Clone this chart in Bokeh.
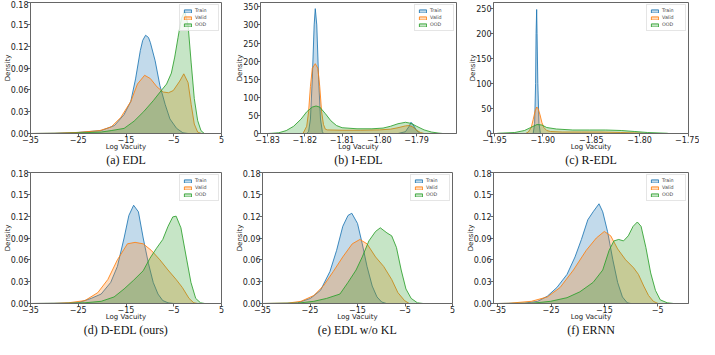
from bokeh.plotting import figure
from bokeh.layouts import column, row
from bokeh.models import Range1d, FixedTicker, CustomJSTickFormatter, Legend, LegendItem, LinearAxis
from bokeh.embed import file_html
from bokeh.resources import INLINE

SERIES = ["Train", "Valid", "OOD"]
COLORS = ["#1f77b4", "#ff7f0e", "#2ca02c"]

# ---------------- (a) EDL ----------------
a_train_x = [-35, -30, -25, -20.2, -17.4, -15.4, -14.0, -13.0, -12.0, -11.5, -10.9, -10.3, -9.9, -8.9, -7.9, -6.8, -5.8, -4.4, -3.1, -2.0]
a_train_y = [0, 0.0003, 0.0015, 0.004, 0.011, 0.026, 0.044, 0.075, 0.114, 0.128, 0.135, 0.132, 0.125, 0.100, 0.066, 0.040, 0.020, 0.007, 0.001, 0]
a_valid_x = [-35, -30, -25, -20.5, -18.1, -16.1, -14.0, -12.6, -11.1, -9.9, -8.5, -7.2, -6.1, -5.1, -3.75, -2.9, -2.0, -1.35, -0.7, 0.0, 0.8]
a_valid_y = [0, 0.0003, 0.0015, 0.004, 0.009, 0.022, 0.044, 0.068, 0.080, 0.0755, 0.064, 0.057, 0.056, 0.059, 0.072, 0.082, 0.070, 0.040, 0.013, 0.002, 0]
a_ood_x = [-35, -28, -24, -20.2, -18.1, -15.4, -13.3, -11.3, -9.3, -7.5, -6.5, -5.5, -4.8, -4.1, -3.4, -2.7, -2.0, -1.35, -0.7, 0.0, 0.7, 1.4]
a_ood_y = [0, 0.0003, 0.001, 0.002, 0.004, 0.007, 0.017, 0.030, 0.045, 0.060, 0.068, 0.083, 0.105, 0.132, 0.158, 0.168, 0.149, 0.097, 0.048, 0.018, 0.004, 0]

# ---------------- (b) I-EDL ----------------
b_train_x = [-1.8195, -1.819, -1.8185, -1.818, -1.8175, -1.8172, -1.8168, -1.8163, -1.8158, -1.8153, -1.815, -1.795, -1.793, -1.792, -1.7915, -1.791, -1.790, -1.789]
b_train_y = [0, 5, 40, 150, 300, 345, 300, 150, 40, 5, 0, 0, 5, 20, 31, 25, 8, 0]
b_valid_x = [-1.8205, -1.8195, -1.819, -1.8185, -1.818, -1.8172, -1.8165, -1.816, -1.8155, -1.815, -1.8145, -1.814, -1.810, -1.805, -1.800, -1.797, -1.795, -1.793, -1.792, -1.791, -1.790, -1.789, -1.788]
b_valid_y = [0, 20, 60, 130, 180, 193, 180, 130, 60, 25, 12, 10, 9, 9, 10, 12, 16, 21, 22, 18, 9, 3, 0]
b_ood_x = [-1.830, -1.829, -1.827, -1.825, -1.823, -1.821, -1.8195, -1.818, -1.817, -1.816, -1.8145, -1.813, -1.8115, -1.810, -1.806, -1.802, -1.799, -1.797, -1.795, -1.793, -1.7915, -1.790, -1.788, -1.786, -1.784, -1.783]
b_ood_y = [0, 0.5, 2, 8, 20, 40, 60, 73, 76, 73, 55, 35, 22, 16, 13, 13, 15, 20, 27, 31, 28, 20, 10, 4, 1, 0]

# ---------------- (c) R-EDL ----------------
c_train_x = [-1.910, -1.9085, -1.9075, -1.907, -1.9064, -1.906, -1.9052, -1.904, -1.9025]
c_train_y = [0, 20, 100, 200, 248, 200, 100, 20, 0]
c_valid_x = [-1.918, -1.915, -1.912, -1.910, -1.908, -1.9063, -1.905, -1.903, -1.901, -1.899, -1.896, -1.892, -1.880, -1.860, -1.840, -1.820, -1.800, -1.795]
c_valid_y = [0, 3, 12, 28, 45, 53, 50, 38, 22, 12, 6, 4, 3, 3, 3, 2, 1, 0]
c_ood_x = [-1.948, -1.946, -1.929, -1.919, -1.9125, -1.906, -1.901, -1.896, -1.886, -1.869, -1.852, -1.835, -1.819, -1.805, -1.792, -1.772, -1.770]
c_ood_y = [0, 0.5, 2, 6, 12, 18, 17, 12, 9, 7, 7, 7, 6, 4, 2, 0.5, 0]

# ---------------- (d) D-EDL (ours) ----------------
d_train_x = [-35, -30, -25, -22.3, -20.2, -18.2, -16.8, -15.4, -14.4, -13.4, -12.4, -11.4, -10.3, -9.3, -8.3, -7.3, -6.2, -5.0]
d_train_y = [0, 0.0003, 0.001, 0.007, 0.013, 0.029, 0.051, 0.090, 0.121, 0.135, 0.126, 0.090, 0.055, 0.029, 0.013, 0.004, 0.001, 0]
d_valid_x = [-35, -30, -27, -23.6, -20.9, -18.8, -16.8, -14.7, -13.1, -11.4, -9.7, -7.9, -6.2, -4.5, -3.2, -1.8, -0.8, 0.0]
d_valid_y = [0, 0.0002, 0.001, 0.004, 0.015, 0.033, 0.060, 0.082, 0.084, 0.082, 0.073, 0.060, 0.046, 0.033, 0.022, 0.007, 0.001, 0]
d_ood_x = [-35, -28, -23.6, -20.2, -17.5, -15.4, -13.4, -11.4, -10.0, -8.6, -7.3, -6.2, -5.2, -4.5, -3.5, -2.5, -1.4, -0.4, 0.6, 1.5]
d_ood_y = [0, 0.0002, 0.001, 0.003, 0.009, 0.020, 0.032, 0.045, 0.062, 0.076, 0.088, 0.106, 0.119, 0.120, 0.104, 0.068, 0.029, 0.007, 0.001, 0]

# ---------------- (e) EDL w/o KL ----------------
e_train_x = [-35, -30, -27.6, -24.9, -22.8, -20.8, -19.4, -18.1, -17.0, -16.2, -15.0, -14.0, -13.0, -11.9, -10.9, -9.9, -8.9]
e_train_y = [0, 0.0003, 0.001, 0.007, 0.018, 0.044, 0.073, 0.106, 0.121, 0.124, 0.110, 0.082, 0.051, 0.024, 0.009, 0.002, 0]
e_valid_x = [-35, -29.7, -26.9, -24.2, -22.2, -20.1, -18.1, -16.1, -14.5, -13.0, -11.2, -9.5, -7.8, -6.5, -5.1, -4.1]
e_valid_y = [0, 0.0005, 0.003, 0.011, 0.024, 0.044, 0.064, 0.082, 0.088, 0.082, 0.064, 0.051, 0.033, 0.015, 0.004, 0]
e_ood_x = [-35, -27.6, -24.2, -21.5, -18.7, -17.0, -15.3, -14.0, -12.6, -11.2, -10.2, -8.8, -7.8, -6.8, -5.8, -4.8, -3.7, -2.4, -1.2]
e_ood_y = [0, 0.0005, 0.003, 0.007, 0.013, 0.029, 0.046, 0.064, 0.086, 0.099, 0.104, 0.097, 0.093, 0.077, 0.046, 0.020, 0.007, 0.001, 0]

# ---------------- (f) ERNN ----------------
f_train_x = [-35, -30, -27.5, -25.7, -23.9, -22.0, -20.5, -19.3, -18.1, -17.1, -16.0, -15.3, -14.4, -13.4, -12.5, -11.6, -10.7, -10.0]
f_train_y = [0, 0.0005, 0.003, 0.010, 0.022, 0.040, 0.064, 0.088, 0.115, 0.126, 0.137, 0.126, 0.099, 0.060, 0.029, 0.009, 0.001, 0]
f_valid_x = [-35, -33, -28.7, -25.7, -23.3, -20.8, -18.4, -16.5, -15.0, -13.8, -12.5, -11.0, -9.5, -8.6, -7.6, -6.7, -5.8, -4.9]
f_valid_y = [0, 0.0003, 0.003, 0.009, 0.022, 0.046, 0.073, 0.090, 0.099, 0.093, 0.075, 0.060, 0.049, 0.040, 0.024, 0.011, 0.003, 0]
f_ood_x = [-35, -28.7, -25.1, -22.0, -19.6, -17.1, -15.3, -14.1, -13.2, -12.3, -11.4, -10.5, -9.6, -8.8, -8.1, -7.2, -6.3, -5.4, -4.5, -3.2, -2.0]
f_ood_y = [0, 0.0003, 0.003, 0.008, 0.016, 0.029, 0.046, 0.073, 0.086, 0.088, 0.086, 0.093, 0.106, 0.112, 0.106, 0.077, 0.042, 0.018, 0.005, 0.001, 0]

KDE_Y = [0, 0.03, 0.06, 0.09, 0.12, 0.15, 0.18]
PANELS = [
    dict(cap="(a) EDL", data=[(a_train_x, a_train_y), (a_valid_x, a_valid_y), (a_ood_x, a_ood_y)],
         xr=(-35, 5), xt=[-35, -25, -15, -5, 5], xd=0, yr=(0, 0.18), yt=KDE_Y, yd=2),
    dict(cap="(b) I-EDL", data=[(b_train_x, b_train_y), (b_valid_x, b_valid_y), (b_ood_x, b_ood_y)],
         xr=(-1.8319, -1.7793), xt=[-1.83, -1.82, -1.81, -1.80, -1.79], xd=2, yr=(0, 362), yt=[0, 50, 100, 150, 200, 250, 300, 350], yd=0),
    dict(cap="(c) R-EDL", data=[(c_train_x, c_train_y), (c_valid_x, c_valid_y), (c_ood_x, c_ood_y)],
         xr=(-1.951, -1.7495), xt=[-1.95, -1.90, -1.85, -1.80, -1.75], xd=2, yr=(0, 262), yt=[0, 50, 100, 150, 200, 250], yd=0),
    dict(cap="(d) D-EDL (ours)", data=[(d_train_x, d_train_y), (d_valid_x, d_valid_y), (d_ood_x, d_ood_y)],
         xr=(-35, 5), xt=[-35, -25, -15, -5, 5], xd=0, yr=(0, 0.18), yt=KDE_Y, yd=2),
    dict(cap="(e) EDL w/o KL", data=[(e_train_x, e_train_y), (e_valid_x, e_valid_y), (e_ood_x, e_ood_y)],
         xr=(-35, 5), xt=[-35, -25, -15, -5, 5], xd=0, yr=(0, 0.18), yt=KDE_Y, yd=2),
    dict(cap="(f) ERNN", data=[(f_train_x, f_train_y), (f_valid_x, f_valid_y), (f_ood_x, f_ood_y)],
         xr=(-35.8, 0.8), xt=[-35, -25, -15, -5], xd=0, yr=(0, 0.18), yt=KDE_Y, yd=2),
]

# layout geometry: (width, height, left, right, top, bottom)
GEOM = [
    (232, 169, 30, 11, 2, 30),
    (230, 169, 28, 6, 2, 30),
    (237, 169, 31, 11, 2, 30),
    (232, 170, 30, 11, 3, 30),
    (230, 170, 29, 10, 3, 30),
    (237, 170, 31, 11, 3, 30),
]

FRAME = "#666666"
TXT = "#222222"


def fmt(dec):
    return CustomJSTickFormatter(code="""
        const s = Math.abs(tick).toFixed(%d);
        return (tick < -1e-12 ? '\\u2212' : '') + s;
    """ % dec)


def make(panel, geom):
    w, h, l, r, t, b = geom
    p = figure(width=w, height=h, output_backend="svg", toolbar_location=None,
               x_range=Range1d(*panel["xr"]), y_range=Range1d(*panel["yr"]),
               min_border_left=l, min_border_right=r, min_border_top=t, min_border_bottom=b)
    p.grid.visible = False
    p.outline_line_color = FRAME
    p.outline_line_width = 1
    items = []
    for (xs, ys), name, col in zip(panel["data"], SERIES, COLORS):
        rr = p.patch(xs, ys, fill_color=col, fill_alpha=0.27, line_color=col, line_alpha=0.85, line_width=1)
        items.append(LegendItem(label=name, renderers=[rr]))
    leg = Legend(items=items, location="top_right", label_text_font="DejaVu Sans",
                 label_text_font_size="4.8px", glyph_width=9, glyph_height=4, label_height=5,
                 label_standoff=3, spacing=2, padding=3, margin=2,
                 border_line_color="#cccccc", border_line_width=0.6, background_fill_alpha=0.8)
    p.add_layout(leg)
    for ax, lab, ticks, dec, lstand in ((p.xaxis[0], "Log Vacuity", panel["xt"], panel["xd"], -3),
                                        (p.yaxis[0], "Density", panel["yt"], panel["yd"], -4)):
        ax.ticker = FixedTicker(ticks=ticks)
        ax.formatter = fmt(dec)
        ax.axis_label = lab
        ax.axis_label_text_font = "DejaVu Sans"
        ax.axis_label_text_font_size = "7px"
        ax.axis_label_text_font_style = "normal"
        ax.axis_label_text_color = TXT
        ax.axis_label_standoff = lstand
        ax.major_label_text_font = "DejaVu Sans"
        ax.major_label_text_font_size = "8px"
        ax.major_label_text_color = TXT
        ax.major_label_standoff = -1
        ax.major_tick_in = 0
        ax.major_tick_out = 3
        ax.minor_tick_in = 0
        ax.minor_tick_out = 0
        ax.major_tick_line_color = FRAME
        ax.minor_tick_line_color = None
        ax.axis_line_color = FRAME
    # sub-figure caption: label of an extra tick-less axis underneath
    cap = LinearAxis(ticker=FixedTicker(ticks=[]), axis_label=panel["cap"],
                     axis_label_text_font="Liberation Serif", axis_label_text_font_size="12px",
                     axis_label_text_font_style="normal", axis_label_text_color="#111111",
                     axis_label_standoff=-1, axis_line_color=None, major_tick_line_color=None,
                     minor_tick_line_color=None, major_tick_out=0, major_tick_in=0,
                     minor_tick_out=0, minor_tick_in=0, major_label_standoff=0)
    p.add_layout(cap, "below")
    return p


figs = [make(pn, g) for pn, g in zip(PANELS, GEOM)]
layout = column(row(*figs[:3]), row(*figs[3:]))

open("out.html", "w").write(file_html(layout, INLINE))
